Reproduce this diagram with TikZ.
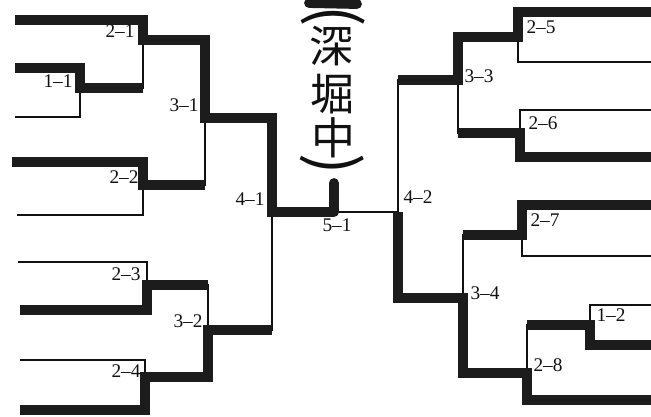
\documentclass[tikz,border=0pt]{standalone}
\usepackage{fontspec}
\setmainfont{Liberation Serif}
\newfontfamily\cjkfont{Noto Sans CJK JP}
\usepackage{tikz}
\usetikzlibrary{calc}
\definecolor{brkink}{HTML}{111111}
\definecolor{brkmark}{HTML}{1C1C1C}

\begin{document}
\begin{tikzpicture}[x=0.02cm,y=-0.02cm,
  rule/.style={draw=brkink, line width=0.9pt},
  marker/.style={draw=brkmark, line width=5.6pt},
  tag/.style={font=\fontsize{11}{13}\selectfont, text=brkink, inner sep=0pt},
  kanji/.style={font=\cjkfont\fontsize{25}{28}\selectfont, text=brkink, inner sep=0pt},
  paren/.style={font=\cjkfont\fontsize{36}{36}\selectfont, text=brkink, inner sep=0pt, rotate=-90}]

  \fill[white] (0,0) rectangle (651,416);
  \useasboundingbox (0,0) rectangle (651,416);

  % Entry points, left half
  \coordinate (l1) at (15,20);
  \coordinate (l2) at (15,68);
  \coordinate (l3) at (15,117);
  \coordinate (l4) at (12,162);
  \coordinate (l5) at (17,215);
  \coordinate (l6) at (18,262);
  \coordinate (l7) at (20,310);
  \coordinate (l8) at (20,360);
  \coordinate (l9) at (20,410);

  % Entry points, right half
  \coordinate (r1) at (651,12);
  \coordinate (r2) at (651,62);
  \coordinate (r3) at (651,110);
  \coordinate (r4) at (651,157);
  \coordinate (r5) at (651,205);
  \coordinate (r6) at (651,256);
  \coordinate (r7) at (651,305);
  \coordinate (r8) at (651,345);
  \coordinate (r9) at (651,400);

  % Match junctions
  \coordinate (m11) at (80,88);
  \coordinate (m21) at (143,40);
  \coordinate (m22) at (143,185);
  \coordinate (m23) at (147,285);
  \coordinate (m24) at (145,377);
  \coordinate (m31) at (205,118);
  \coordinate (m32) at (208,330);
  \coordinate (m41) at (272,212);
  \coordinate (m51) at (334,212);
  \coordinate (m42) at (398,212);
  \coordinate (m33) at (458,80);
  \coordinate (m34) at (463,298);
  \coordinate (m25) at (518,37);
  \coordinate (m26) at (520,133);
  \coordinate (m27) at (522,235);
  \coordinate (m28) at (527,373);
  \coordinate (m12) at (590,325);
  \coordinate (champ) at (334,183);

  % Bracket lines
  \draw[rule] (l1) -| (m21);
  \draw[rule] (l2) -| (m11) |- (l3);
  \draw[rule] (m11) -| (m21);
  \draw[rule] (l4) -| (m22) |- (l5);
  \draw[rule] (l6) -| (m23) |- (l7);
  \draw[rule] (l8) -| (m24) |- (l9);
  \draw[rule] (m21) -| (m31) |- (m22);
  \draw[rule] (m23) -| (m32) |- (m24);
  \draw[rule] (m31) -| (m41) |- (m32);
  \draw[rule] (m41) -- (m51) -- (m42);
  \draw[rule] (m33) -| (m42) |- (m34);
  \draw[rule] (r1) -| (m25) |- (r2);
  \draw[rule] (r3) -| (m26) |- (r4);
  \draw[rule] (m25) -| (m33) |- (m26);
  \draw[rule] (r5) -| (m27) |- (r6);
  \draw[rule] (r7) -| (m12) |- (r8);
  \draw[rule] (m12) -| (m28) |- (r9);
  \draw[rule] (m27) -| (m34) |- (m28);

  % Winners, left half
  \draw[marker] (l1) -| (m21) -| (m31) -| (m41) -- (m51);
  \draw[marker, line cap=round] (m51) -- (champ);
  \draw[marker] (l2) -| (m11) -- (m11 -| m21);
  \draw[marker] (l4) -| (m22) -- (m22 -| m31);
  \draw[marker] (l7) -| (m23) -- (m23 -| m32);
  \draw[marker] (l9) -| (m24) -| (m32) -- (m32 -| m41);

  % Winners, right half
  \draw[marker] (r1) -| (m25) -| (m33) -- (m33 -| m42);
  \draw[marker] (r4) -| (m26) -- (m26 -| m33);
  \draw[marker] (r5) -| (m27) -- (m27 -| m34);
  \draw[marker] (r8) -| (m12) -- (m12 -| m28);
  \draw[marker] (r9) -| (m28) -| (m34) -| (m42);

  % Cut-off stroke at the top
  \draw[marker, line cap=round] (309,3) -- (357,4);

  % Match numbers
  \node[tag] (t11) at (58,81) {1--1};
  \node[tag] (t21) at (120,31) {2--1};
  \node[tag] (t22) at (124,177) {2--2};
  \node[tag] (t23) at (126,274) {2--3};
  \node[tag] (t24) at (126,371) {2--4};
  \node[tag] (t31) at (184,105) {3--1};
  \node[tag] (t32) at (188,321) {3--2};
  \node[tag] (t41) at (250,199) {4--1};
  \node[tag] (t51) at (337,225) {5--1};
  \node[tag] (t42) at (418,197) {4--2};
  \node[tag] (t33) at (479,76) {3--3};
  \node[tag] (t34) at (485,293) {3--4};
  \node[tag] (t25) at (541,27) {2--5};
  \node[tag] (t26) at (543,123) {2--6};
  \node[tag] (t27) at (545,220) {2--7};
  \node[tag] (t28) at (548,365) {2--8};
  \node[tag] (t12) at (611,315) {1--2};

  % Champion, written top to bottom
  \node[paren] (popen) at (333,16) {(};
  \node[kanji] (k1) at (331,46) {深};
  \node[kanji] (k2) at (332,94) {堀};
  \node[kanji] (k3) at (333,138) {中};
  \node[paren] (pclose) at (332,164) {)};
\end{tikzpicture}
\end{document}
